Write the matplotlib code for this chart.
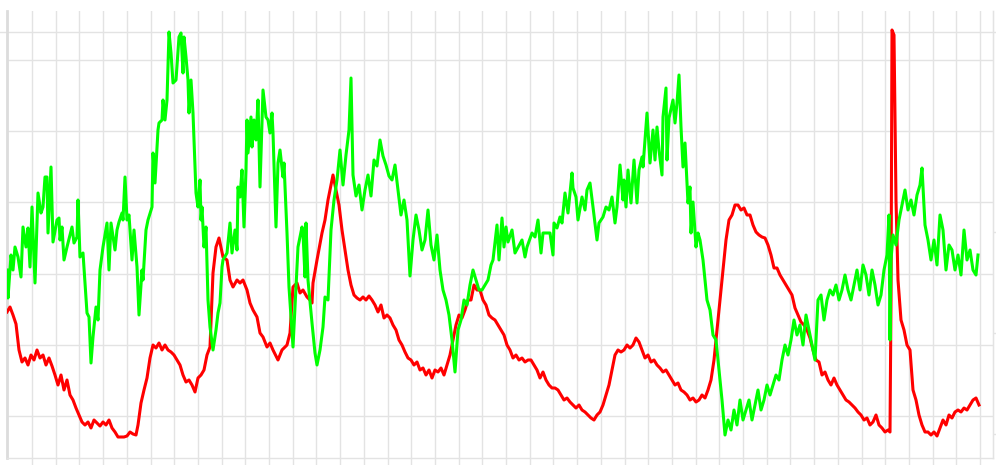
import numpy as np
import matplotlib
matplotlib.use("Agg")
import matplotlib.pyplot as plt

# ---- data: (time index, value) ----
green_pts = [
    (7, 188), (8, 160), (11, 203), (13, 188), (15, 211), (18, 201), (21, 181), (23, 231), (26, 211), (28, 230),
    (30, 191), (32, 251), (35, 175), (38, 265), (41, 245), (43, 251), (45, 281), (47, 281), (48, 225), (51, 291),
    (53, 216), (57, 238), (59, 240), (60, 218), (62, 231), (64, 198), (67, 211), (72, 231), (74, 215), (77, 221),
    (78, 258), (80, 201), (83, 205), (87, 145), (89, 141), (91, 95), (93, 121), (96, 151), (98, 138), (100, 188),
    (103, 211), (107, 235), (109, 188), (111, 235), (115, 208), (117, 228), (119, 236), (122, 245), (123, 238), (125, 281),
    (127, 238), (129, 243), (132, 198), (134, 228), (137, 191), (139, 143), (142, 188), (143, 178), (146, 228), (148, 238),
    (152, 251), (153, 305), (155, 275), (158, 328), (159, 335), (162, 338), (163, 358), (165, 338), (167, 358), (169, 426),
    (171, 405), (173, 375), (176, 378), (179, 421), (181, 425), (183, 385), (184, 421), (186, 401), (188, 378), (189, 345),
    (191, 378), (193, 345), (196, 265), (198, 251), (200, 278), (201, 238), (202, 251), (204, 211), (206, 231), (208, 158),
    (210, 131), (213, 108), (216, 128), (218, 145), (220, 155), (222, 191), (223, 198), (227, 205), (230, 235), (232, 205),
    (235, 228), (237, 208), (238, 271), (240, 261), (242, 288), (244, 231), (246, 288), (247, 338), (248, 305), (251, 341),
    (252, 311), (254, 338), (256, 318), (258, 358), (260, 271), (262, 338), (263, 368), (266, 341), (268, 338), (270, 325),
    (272, 345), (273, 325), (276, 231), (278, 295), (280, 308), (283, 281), (284, 295), (287, 225), (289, 171), (293, 111),
    (296, 171), (298, 211), (302, 231), (303, 225), (305, 181), (306, 235), (308, 178), (312, 135), (315, 105), (317, 93),
    (320, 108), (323, 131), (325, 161), (328, 158),
    (331, 228), (334, 258), (337, 278), (340, 308), (343, 273), (346, 303), (349, 328), (351, 380), (353, 283), (356, 262),
    (359, 273), (362, 248), (365, 268), (368, 283), (371, 262), (374, 298), (377, 292), (380, 318), (383, 302), (386, 293),
    (389, 282), (392, 278), (395, 293), (398, 268), (401, 243), (404, 258), (407, 238), (410, 182), (413, 218), (416, 243),
    (419, 228), (422, 208), (425, 218), (428, 248), (431, 213), (434, 198), (437, 223), (440, 188), (443, 168), (446, 158),
    (449, 143), (452, 118), (455, 86), (458, 128), (461, 138), (464, 158), (467, 153), (470, 173), (473, 188), (476, 178),
    (479, 168), (482, 168), (485, 173), (488, 178), (491, 193),
    (493, 198), (497, 233), (499, 198), (502, 240), (504, 211), (506, 231), (508, 216), (512, 228), (515, 205), (522, 218),
    (525, 201), (527, 211), (532, 225), (535, 221), (538, 238), (541, 205), (543, 225), (547, 225), (550, 225), (553, 203),
    (554, 235), (557, 230), (560, 241), (562, 235), (565, 265), (568, 245), (572, 285), (573, 270), (576, 261), (578, 238),
    (582, 261), (585, 248), (587, 268), (590, 275), (593, 251), (597, 218), (599, 235), (603, 241), (606, 251), (609, 248),
    (612, 261), (615, 235), (617, 251), (620, 293), (623, 258), (624, 278), (626, 251), (628, 288), (631, 255), (634, 298),
    (637, 255), (639, 288), (642, 301), (643, 291), (647, 345), (650, 295), (653, 328), (655, 298), (657, 331), (659, 308),
    (662, 283), (663, 341), (666, 370), (667, 298), (669, 340), (673, 358), (675, 335), (677, 355), (679, 383), (681, 331),
    (683, 291), (685, 315), (688, 255), (690, 271), (691, 225), (693, 256), (696, 211), (698, 225), (700, 218), (703, 198),
    (707, 158), (710, 148), (713, 123), (716, 118), (719, 88), (722, 58), (725, 23), (728, 38), (731, 28), (734, 48),
    (737, 33), (740, 58), (743, 38), (746, 48), (749, 58), (752, 38), (755, 53), (758, 68), (761, 48), (764, 58),
    (767, 73), (770, 63), (773, 73), (776, 83), (779, 78), (782, 98), (785, 113), (788, 103), (791, 118), (794, 138),
    (797, 123), (800, 133), (803, 113), (806, 143), (809, 128), (812, 113), (815, 98), (818, 158), (821, 163), (824, 138),
    (827, 158), (830, 168), (833, 163), (836, 173), (839, 158), (842, 168), (845, 183), (848, 168), (851, 158), (854, 173),
    (857, 188), (860, 168), (863, 193), (866, 183), (869, 163), (872, 188), (875, 173), (878, 153), (881, 163), (884, 188),
    (887, 203), (889, 243), (890, 118), (891, 198), (893, 223), (896, 213), (899, 238), (902, 253), (905, 268), (908, 248),
    (911, 258), (914, 243), (917, 263), (920, 273), (922, 290), (925, 233), (928, 218), (931, 198), (934, 218), (937, 193),
    (940, 243), (943, 228), (946, 188), (949, 213), (952, 208), (955, 188), (958, 203), (961, 183), (964, 228), (967, 198),
    (970, 208), (973, 188), (976, 183), (978, 203),
]

red_pts = [
    (7, 146), (10, 151), (13, 143), (16, 134), (19, 108), (22, 96), (25, 100), (28, 93), (31, 103), (34, 98),
    (37, 108), (40, 100), (43, 103), (46, 93), (49, 100), (52, 92), (55, 83), (58, 73), (61, 83), (64, 68),
    (67, 78), (70, 63), (73, 58), (76, 50), (79, 43), (82, 36), (85, 33), (88, 36), (91, 30), (94, 38),
    (97, 35), (100, 32), (103, 36), (106, 33), (109, 38), (112, 30), (115, 26), (118, 21), (121, 21), (124, 21),
    (127, 22), (130, 26), (133, 24), (136, 23), (138, 33), (141, 55), (144, 68), (147, 80), (150, 100), (153, 113),
    (156, 110), (159, 115), (162, 108), (165, 113), (168, 108), (171, 106), (174, 103), (177, 98), (180, 93), (183, 83),
    (186, 76), (189, 78), (192, 73), (195, 66), (198, 80), (201, 83), (204, 88), (207, 103),
    (210, 111), (213, 185), (216, 211), (219, 220), (223, 201), (227, 198), (230, 178), (233, 171), (237, 178), (240, 175),
    (243, 178), (247, 168), (250, 155), (253, 148), (257, 141), (260, 125), (263, 121), (267, 111), (270, 115), (273, 108),
    (278, 98), (282, 108), (287, 113), (290, 125), (293, 171), (297, 175), (300, 165), (303, 168), (307, 161), (310, 158),
    (312, 155), (313, 175), (317, 198), (322, 225), (325, 238), (328, 258),
    (330, 268), (333, 283), (336, 268), (339, 253), (342, 228), (345, 208), (348, 188), (351, 173), (354, 163), (357, 160),
    (360, 158), (363, 161), (366, 158), (369, 162), (372, 158), (375, 153), (378, 146), (381, 153), (384, 140), (387, 143),
    (390, 140), (393, 133), (396, 128), (399, 118), (402, 113), (405, 106), (408, 100), (411, 98), (414, 93), (417, 96),
    (420, 88), (423, 90), (426, 83), (429, 88), (432, 80), (435, 88), (438, 86), (441, 90), (444, 83), (447, 93),
    (450, 103), (453, 118), (456, 133), (459, 143), (462, 140), (465, 148), (468, 158), (471, 158), (474, 173), (477, 168),
    (480, 168), (483, 158), (486, 153), (489, 143), (492, 140), (495, 138), (498, 133), (501, 128), (504, 123), (507, 113),
    (510, 108), (513, 100), (516, 103), (519, 98), (522, 100), (525, 96), (528, 98), (531, 98), (534, 93), (537, 88),
    (540, 80), (543, 86), (546, 78), (549, 73), (552, 70), (555, 70), (558, 68), (561, 63), (564, 58), (567, 60),
    (570, 56), (573, 53), (576, 50), (579, 53), (582, 48), (585, 46), (588, 43), (591, 40), (594, 38), (597, 43),
    (600, 46), (603, 53), (606, 63), (609, 73), (612, 88), (615, 103), (618, 108), (621, 106), (624, 108), (627, 113),
    (630, 110), (633, 113), (636, 120), (639, 116), (642, 108), (645, 100), (648, 103), (651, 96), (654, 98), (657, 93),
    (660, 90), (663, 86), (666, 88), (669, 83), (672, 78), (675, 73), (678, 75), (681, 68), (684, 66), (687, 63),
    (690, 58), (693, 60), (696, 56), (699, 58), (702, 63), (705, 60), (708, 68), (711, 78), (714, 98), (717, 128),
    (720, 158), (723, 188), (726, 218), (729, 238), (732, 243), (735, 253), (738, 253), (741, 248), (744, 250), (747, 243),
    (750, 243), (753, 233), (756, 226), (759, 223), (762, 221), (765, 220), (768, 213), (771, 203), (774, 190), (777, 190),
    (780, 183), (783, 178), (786, 173), (789, 168), (792, 163), (795, 150), (798, 143), (801, 136), (804, 133), (807, 128),
    (810, 120), (813, 108), (816, 98), (819, 96), (822, 83), (825, 86), (828, 78), (831, 73), (834, 80), (837, 73),
    (840, 68), (843, 63), (846, 58), (849, 56), (852, 53), (855, 50), (858, 46), (861, 43), (864, 38), (867, 40),
    (870, 33), (873, 36), (876, 43), (879, 33), (882, 30), (885, 26), (888, 28), (890, 26), (891, 158), (892, 428),
    (894, 423), (896, 258), (898, 178), (901, 138), (904, 128), (907, 113), (910, 108), (913, 68), (916, 58), (919, 43),
    (922, 33), (925, 26), (928, 26), (931, 23), (934, 26), (937, 22), (940, 30), (943, 38), (946, 33), (949, 43),
    (952, 40), (955, 46), (958, 48), (961, 46), (964, 50), (967, 48), (970, 53), (973, 58), (976, 60), (979, 53),
]

green_x = [p[0] for p in green_pts]
green_y = [p[1] for p in green_pts]
red_x = [p[0] for p in red_pts]
red_y = [p[1] for p in red_pts]

# ---- figure ----
W, H, DPI = 996, 465, 100
fig = plt.figure(figsize=(W / DPI, H / DPI), dpi=DPI)
ax = fig.add_axes([7 / W, (H - 458) / H, (993 - 7) / W, (458 - 11) / H])
ax.set_xlim(7, 993)
ax.set_ylim(0, 447)

gridc = "#e3e3e3"
xgrid = 32 + 23.7 * np.arange(41)
ygrid = [42, 113, 184, 256, 327, 398]
ax.set_xticks(xgrid)
ax.set_yticks(ygrid)
ax.set_xticklabels([])
ax.set_yticklabels([])
ax.grid(True, color=gridc, linewidth=1.0)
ax.tick_params(axis="x", length=5, width=1, color=gridc, direction="out")
ax.tick_params(axis="y", length=0)
ax.axhline(426, xmin=-7 / 986, xmax=1 + 3 / 986, color=gridc, linewidth=1.0, clip_on=False, zorder=0.5)

ax.spines["top"].set_visible(False)
ax.spines["left"].set_color("#dcdcdc")
ax.spines["left"].set_linewidth(2.0)
ax.spines["bottom"].set_color(gridc)
ax.spines["bottom"].set_linewidth(1.0)
ax.spines["right"].set_color(gridc)
ax.spines["right"].set_linewidth(1.0)

ax2 = ax.twinx()
ax2.set_ylim(0, 447)
ax2.set_yticks([24, 125, 226])
ax2.set_yticklabels([])
ax2.tick_params(axis="y", length=3, width=1, color=gridc, direction="out")
for s in ["top", "left", "bottom"]:
    ax2.spines[s].set_visible(False)
ax2.spines["right"].set_color(gridc)

ax.plot(red_x, red_y, color="#ff0000", linewidth=2.2, solid_joinstyle="round", zorder=3)
ax.plot(green_x, green_y, color="#00ff00", linewidth=2.2, solid_joinstyle="round", zorder=4)

fig.savefig("out.png", dpi=DPI)
